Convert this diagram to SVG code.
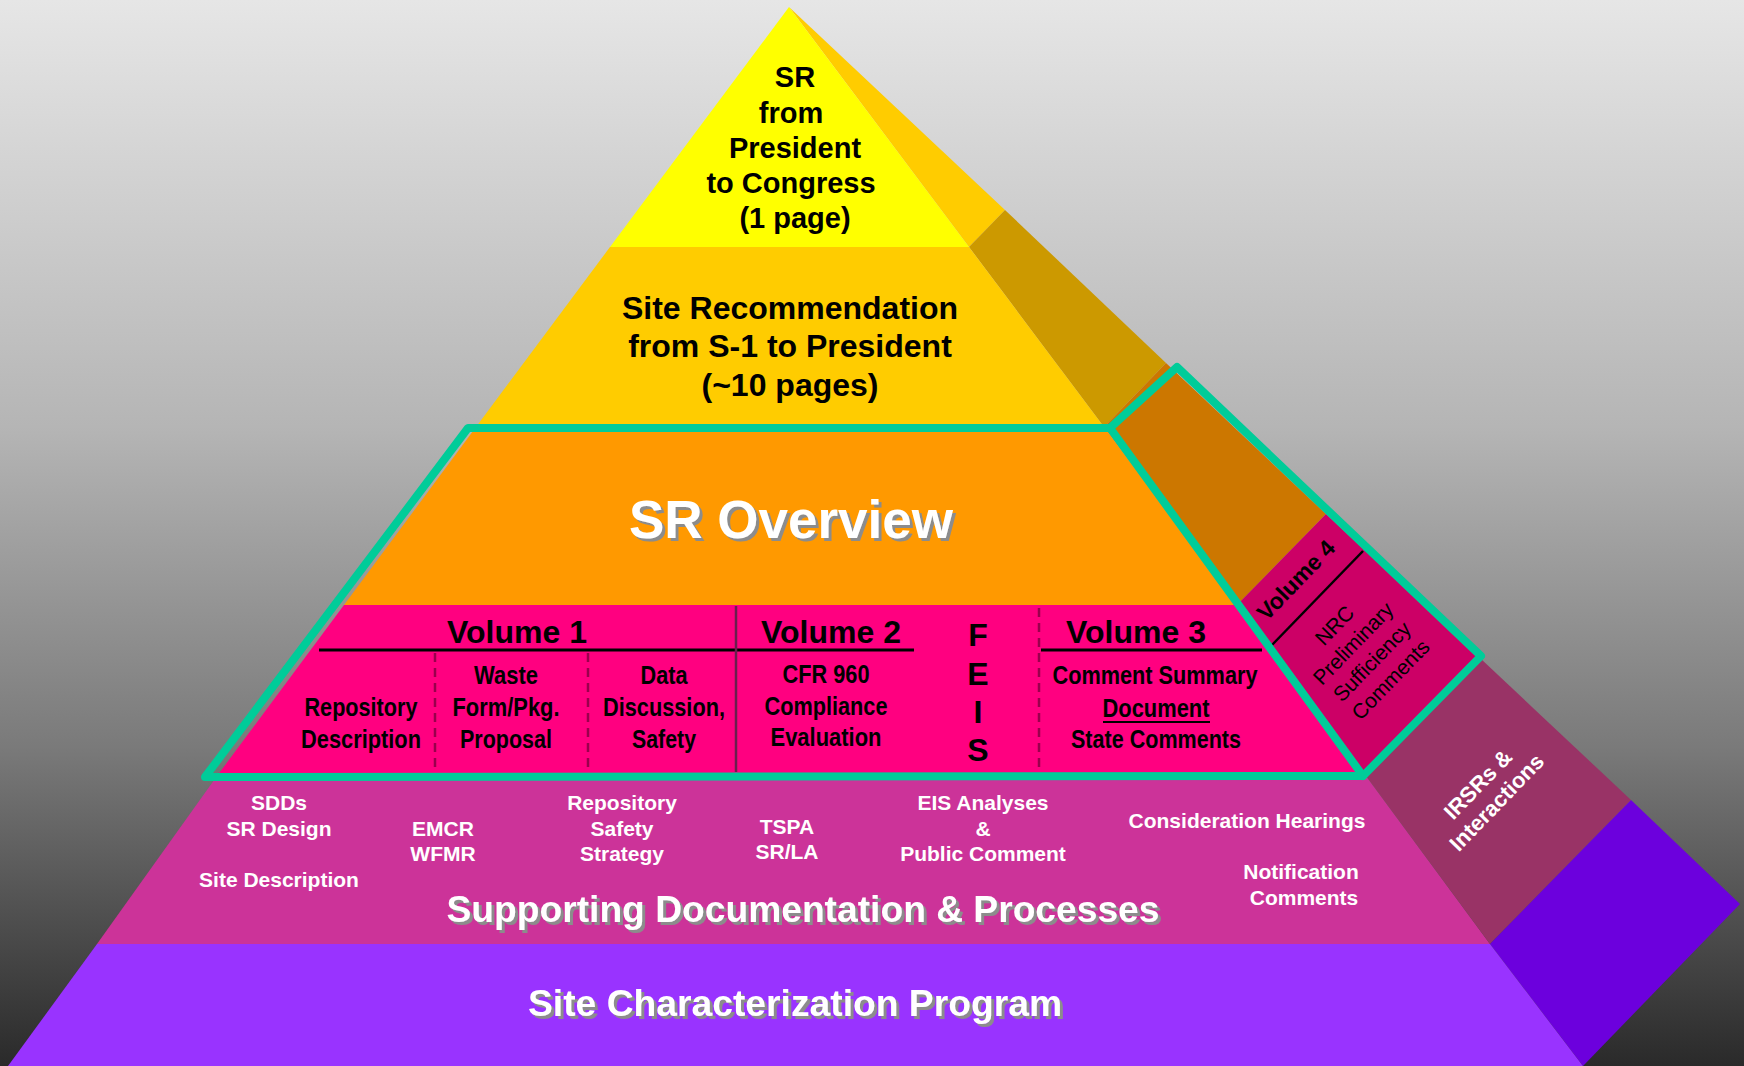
<svg xmlns="http://www.w3.org/2000/svg" width="1744" height="1066" viewBox="0 0 1744 1066">
  <defs>
    <linearGradient id="bg" x1="0" y1="0" x2="0" y2="1">
      <stop offset="0" stop-color="#E6E6E6"/>
      <stop offset="0.4" stop-color="#B5B5B5"/>
      <stop offset="0.7" stop-color="#7A7A7A"/>
      <stop offset="1" stop-color="#2A2A2A"/>
    </linearGradient>
    <filter id="shadow" x="-5%" y="-30%" width="110%" height="160%">
      <feFlood flood-color="#8C8C8C"/>
      <feComposite in2="SourceAlpha" operator="in"/>
      <feOffset dx="3" dy="3" result="s"/>
      <feMerge>
        <feMergeNode in="s"/>
        <feMergeNode in="SourceGraphic"/>
      </feMerge>
    </filter>
  </defs>
  <style>
    text { font-family: "Liberation Sans", Arial, sans-serif; font-weight: bold; text-anchor: middle; }
    .blk { fill: #000000; }
    .wht { fill: #FFFFFF; }
    .shadowed { filter: url(#shadow); }
    .reg { font-weight: normal; }
    .vsub { font-size: 25px; fill: #000000; }
    .sup { font-size: 21px; fill: #FFFFFF; }
    .big { font-size: 37px; }
    .outline { fill: none; stroke: #00CC99; stroke-width: 8; stroke-linejoin: round; stroke-linecap: round; }
    .rule { stroke: #000000; stroke-width: 3; }
    .dash { stroke: #99004D; stroke-width: 2.5; stroke-dasharray: 9 6; }
    .solid { stroke: #6A1F4E; stroke-width: 2.5; }
  </style>

  <rect x="0" y="0" width="1744" height="1066" fill="url(#bg)"/>

  <!-- Layer 1: SR from President to Congress -->
  <g id="layer-sr-congress">
    <polygon points="789,7 1005,210 969,247" fill="#FFCC00"/>
    <polygon points="789,7 969,247 610,247" fill="#FFFF00"/>
    <text class="blk" font-size="29" x="795" y="87">SR</text>
    <text class="blk" font-size="29" x="791" y="123">from</text>
    <text class="blk" font-size="29" x="795" y="158">President</text>
    <text class="blk" font-size="29" x="791" y="193">to Congress</text>
    <text class="blk" font-size="29" x="795" y="228">(1 page)</text>
  </g>

  <!-- Layer 2: Site Recommendation -->
  <g id="layer-site-recommendation">
    <polygon points="969,247 1005,210 1166,363 1104,427" fill="#CC9900"/>
    <polygon points="610,247 969,247 1104,427 476,427" fill="#FFCC00"/>
    <text class="blk" font-size="32" x="790" y="319">Site Recommendation</text>
    <text class="blk" font-size="32" x="790" y="357">from S-1 to President</text>
    <text class="blk" font-size="32" x="790" y="396">(~10 pages)</text>
  </g>

  <!-- Layer 3: SR Overview -->
  <g id="layer-sr-overview">
    <polygon points="1104,427 1166,363 1326,514 1237,605" fill="#CC7700"/>
    <polygon points="476,427 1104,427 1237,605 344,605" fill="#FF9900"/>
    <text class="wht shadowed" font-size="53" x="791" y="538">SR Overview</text>
  </g>

  <!-- Layer 4: Volumes -->
  <g id="layer-volumes">
    <polygon points="344,605 1237,605 1366,776 217,776" fill="#FF0080"/>
    <text class="blk" font-size="32" x="517" y="643">Volume 1</text>
    <text class="blk" font-size="32" x="831" y="643">Volume 2</text>
    <text class="blk" font-size="32" x="1136" y="643">Volume 3</text>

    <text class="vsub" x="361" y="716" textLength="113" lengthAdjust="spacingAndGlyphs">Repository</text>
    <text class="vsub" x="361" y="748" textLength="120" lengthAdjust="spacingAndGlyphs">Description</text>
    <text class="vsub" x="506" y="684" textLength="64" lengthAdjust="spacingAndGlyphs">Waste</text>
    <text class="vsub" x="506" y="716" textLength="107" lengthAdjust="spacingAndGlyphs">Form/Pkg.</text>
    <text class="vsub" x="506" y="748" textLength="92" lengthAdjust="spacingAndGlyphs">Proposal</text>
    <text class="vsub" x="664" y="684" textLength="47" lengthAdjust="spacingAndGlyphs">Data</text>
    <text class="vsub" x="664" y="716" textLength="122" lengthAdjust="spacingAndGlyphs">Discussion,</text>
    <text class="vsub" x="664" y="748" textLength="64" lengthAdjust="spacingAndGlyphs">Safety</text>
    <text class="vsub" x="826" y="683" textLength="87" lengthAdjust="spacingAndGlyphs">CFR 960</text>
    <text class="vsub" x="826" y="715" textLength="123" lengthAdjust="spacingAndGlyphs">Compliance</text>
    <text class="vsub" x="826" y="746" textLength="111" lengthAdjust="spacingAndGlyphs">Evaluation</text>

    <text class="blk" font-size="32" x="978" y="646">F</text>
    <text class="blk" font-size="32" x="978" y="685">E</text>
    <text class="blk" font-size="32" x="978" y="723">I</text>
    <text class="blk" font-size="32" x="978" y="761">S</text>

    <text class="vsub" x="1155" y="684" textLength="205" lengthAdjust="spacingAndGlyphs">Comment Summary</text>
    <text class="vsub" x="1156" y="717" textLength="107" lengthAdjust="spacingAndGlyphs">Document</text>
    <line x1="1103" y1="722" x2="1210" y2="722" stroke="#000" stroke-width="2"/>
    <text class="vsub" x="1156" y="748" textLength="170" lengthAdjust="spacingAndGlyphs">State Comments</text>
  </g>

  <!-- Volume 4 (side) -->
  <g id="volume-4">
    <polygon points="1237,605 1326,514 1480,658 1366,776" fill="#CC0066"/>
    <line x1="1272" y1="645" x2="1363" y2="551" stroke="#000" stroke-width="2.5"/>
    <g transform="translate(1296,580) rotate(-46)">
      <text class="blk" font-size="23" x="0" y="8">Volume 4</text>
    </g>
    <g transform="translate(1362,652) rotate(-46)">
      <text class="blk reg" font-size="21" x="0" y="-31">NRC</text>
      <text class="blk reg" font-size="21" x="0" y="-5">Preliminary</text>
      <text class="blk reg" font-size="21" x="0" y="21">Sufficiency</text>
      <text class="blk reg" font-size="21" x="0" y="47">Comments</text>
    </g>
  </g>

  <!-- Layer 5: Supporting Documentation & Processes -->
  <g id="layer-supporting">
    <polygon points="217,776 1366,776 1490,944 97,944" fill="#CC3399"/>
    <text class="sup" x="279" y="810">SDDs</text>
    <text class="sup" x="279" y="836">SR Design</text>
    <text class="sup" x="279" y="887">Site Description</text>
    <text class="sup" x="443" y="836">EMCR</text>
    <text class="sup" x="443" y="861">WFMR</text>
    <text class="sup" x="622" y="810">Repository</text>
    <text class="sup" x="622" y="836">Safety</text>
    <text class="sup" x="622" y="861">Strategy</text>
    <text class="sup" x="787" y="834">TSPA</text>
    <text class="sup" x="787" y="859">SR/LA</text>
    <text class="sup" x="983" y="810">EIS Analyses</text>
    <text class="sup" x="983" y="836">&amp;</text>
    <text class="sup" x="983" y="861">Public Comment</text>
    <text class="sup" x="1247" y="828">Consideration Hearings</text>
    <text class="sup" x="1301" y="879">Notification</text>
    <text class="sup" x="1304" y="905">Comments</text>
    <text class="wht big shadowed" x="803" y="922" textLength="713" lengthAdjust="spacingAndGlyphs">Supporting Documentation &amp; Processes</text>
  </g>

  <!-- IRSRs side -->
  <g id="irsrs">
    <polygon points="1366,776 1480,658 1631,800 1490,944" fill="#993366"/>
    <g transform="translate(1487,793) rotate(-46)">
      <text class="wht" font-size="22" x="0" y="-5">IRSRs &amp;</text>
      <text class="wht" font-size="22" x="0" y="21">Interactions</text>
    </g>
  </g>

  <!-- Layer 6: Site Characterization Program -->
  <g id="layer-site-characterization">
    <polygon points="1490,944 1631,800 1740,904 1583,1066" fill="#6C00DD"/>
    <polygon points="97,944 1490,944 1583,1066 8,1066" fill="#9933FF"/>
    <text class="wht big shadowed" x="795" y="1016" textLength="534" lengthAdjust="spacingAndGlyphs">Site Characterization Program</text>
  </g>

  <!-- Dividers and outline -->
  <g id="connectors">
    <line class="rule" x1="319" y1="650" x2="914" y2="650"/>
    <line class="rule" x1="1041" y1="650" x2="1262" y2="650"/>
    <line class="solid" x1="736" y1="606" x2="736" y2="772"/>
    <line class="dash" x1="435" y1="653" x2="435" y2="773"/>
    <line class="dash" x1="588" y1="653" x2="588" y2="773"/>
    <line class="dash" x1="1039" y1="608" x2="1039" y2="773"/>
    <polygon class="outline" points="468,428 1110,428 1177,367 1481,656 1363,776 205,777"/>
    <line class="outline" x1="1110" y1="428" x2="1363" y2="776"/>
  </g>
</svg>
